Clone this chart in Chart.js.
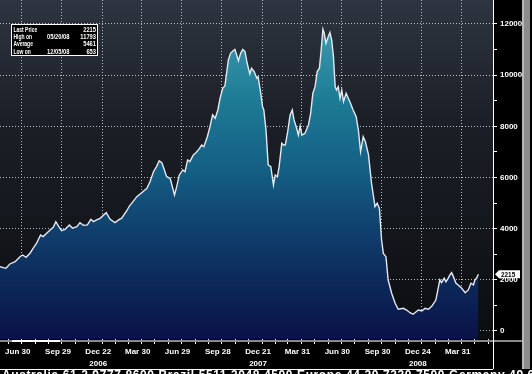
<!DOCTYPE html>
<html>
<head>
<meta charset="utf-8">
<script src="https://cdn.jsdelivr.net/npm/chart.js@4.4.1/dist/chart.umd.min.js"></script>
<style>
  html, body { margin: 0; padding: 0; background: #000; }
  #wrap { width: 532px; height: 374px; }
</style>
</head>
<body>
<div id="wrap"><canvas id="PriceChart" width="532" height="374"></canvas></div>
<script>
// days counted from 30 Jun 2005
var sessionDays = [-50,-36,-27,-15,-4,2,10,19,26,34,43,49,57,65,72,78,84,91,99,109,
    116,126,133,141,150,158,164,171,179,193,202,213,223,228,240,246,251,263,274,286,
    293,301,308,314,320,326,331,339,345,349,354,360,368,373,379,384,392,398,406,411,
    416,424,430,436,442,448,453,459,464,468,472,477,483,487,491,495,500,505,510,515,
    521,525,531,537,540,546,550,553,558,563,569,575,579,584,588,594,598,602,607,613,
    618,622,627,632,636,640,647,655,660,665,670,675,680,684,688,691,695,700,704,708,
    712,716,719,723,727,731,735,741,746,751,757,764,769,774,780,785,792,799,807,812,
    817,822,826,832,837,845,853,860,872,879,887,894,906,914,921,929,937,946,952,955,
    959,965,969,974,978,982,986,992,997,1005,1013,1020,1026,1032,1035,1039,1043];
var prices = [2510,2450,2620,2710,2905,2970,2880,3040,3230,3430,3750,3690,3820,3950,4050,4270,4100,3920,3975,4145,
    4015,4080,4235,4130,4145,4365,4275,4340,4405,4625,4365,4235,4365,4400,4700,4885,4990,5250,5405,5580,
    5835,6225,6425,6655,6580,6295,6030,5970,5580,5315,5640,6100,6295,6225,6685,6620,6880,6970,7140,7270,
    7205,7595,7985,8445,8315,8640,9095,9485,9575,10075,10595,10855,10955,11010,10790,10565,10855,11010,10920,10465,
    10050,10270,10140,9880,9940,9290,8770,8640,7855,6490,6425,5705,6100,6030,6425,7335,7270,7270,7730,8445,
    8640,8250,7985,7660,8015,7660,7730,8055,8510,9290,9550,10140,10270,10985,11793,11640,11245,11505,11670,11375,
    10725,9550,9420,9550,9095,9420,8965,9290,9095,8900,8640,8375,7855,7010,7595,7400,6900,5775,4860,4990,
    4795,3555,3035,2905,1995,1475,1085,850,885,820,715,653,820,780,885,850,975,1210,1730,1995,
    1890,2060,1925,2060,2190,2280,2125,1865,1800,1670,1495,1605,1865,1800,1995,2060,2215];

// x axis: quarter ends carry the labels
var quarterEnds = ["2005-06-30","2005-09-30","2005-12-31","2006-03-31","2006-06-30","2006-09-30",
    "2006-12-31","2007-03-31","2007-06-30","2007-09-30","2007-12-31","2008-03-31"];
var quarterLabels = ["Jun 30","Sep 29","Dec 22","Mar 30","Jun 29","Sep 28",
    "Dec 21","Mar 31","Jun 30","Sep 30","Dec 24","Mar 31"];
var yearLabels = ["","","2006","","","","2007","","","","2008",""];
var yValueTicks = [0,1000,2000,3000,4000,5000,6000,7000,8000,9000,10000,11000,12000];

// summary box
var summaryRows = [
    ["Last Price", "", "2215"],
    ["High on", "05/20/08", "11793"],
    ["Average", "", "5461"],
    ["Low on", "12/05/08", "653"]
];
var lastPrice = 2215;
var footerText = "Australia 61 2 9777 8600 Brazil 5511 3048 4500 Europe 44 20 7330 7500 Germany 49 69 9204 1210";

var FONT = "'Liberation Sans', Arial, sans-serif";
var GRID = 'rgba(200,205,214,0.9)';

function dayOf(s) {
    var base = Date.UTC(2005, 5, 30);
    return (Date.UTC(+s.slice(0, 4), +s.slice(5, 7) - 1, +s.slice(8, 10)) - base) / 864e5;
}

// month ends between the axis limits, quarter ends marked major
function buildMonthTicks() {
    var ticks = [];
    for (var y = 2005; y <= 2008; ++y) {
        for (var m = 0; m < 12; ++m) {
            var end = new Date(Date.UTC(y, m + 1, 0));
            var d = (end - Date.UTC(2005, 5, 30)) / 864e5;
            if (d < -50 || d > 1076) continue;
            var q = -1;
            for (var i = 0; i < quarterEnds.length; ++i) {
                if (dayOf(quarterEnds[i]) == d) q = i;
            }
            ticks.push({value: d, major: q >= 0, q: q});
        }
    }
    return ticks;
}

var points = [];
for (var i = 0; i < sessionDays.length; ++i) {
    points.push({x: sessionDays[i], y: prices[i]});
}

// condensed text, the terminal font is very narrow
function narrowText(ctx, text, x, y, sx) {
    ctx.save();
    ctx.translate(x, y);
    ctx.scale(sx, 1);
    ctx.fillText(text, 0, 0);
    ctx.restore();
}

var plotBackground = {
    id: 'plotBackground',
    beforeDraw: function (chart) {
        var ctx = chart.ctx, a = chart.chartArea;
        ctx.save();
        ctx.fillStyle = '#000';
        ctx.fillRect(0, 0, chart.width, chart.height);
        var g = ctx.createLinearGradient(0, a.top, 0, a.bottom);
        g.addColorStop(0, '#2e3540');
        g.addColorStop(0.35, '#1b1f27');
        g.addColorStop(1, '#0c0d10');
        ctx.fillStyle = g;
        ctx.fillRect(a.left, a.top, a.right - a.left, a.bottom - a.top);
        ctx.restore();
    },
    afterDatasetsDraw: function (chart) {
        // scales are drawn right after this (z: 1), squeeze their labels
        chart.ctx.letterSpacing = '-0.8px';
    }
};

var frameAndText = {
    id: 'frameAndText',
    afterDraw: function (chart) {
        var ctx = chart.ctx, a = chart.chartArea;
        var yScale = chart.scales.y;
        ctx.letterSpacing = '0px';
        ctx.save();

        // x axis band
        ctx.fillStyle = '#8a8a8a';
        ctx.fillRect(0, a.bottom + 1, 522, 2);
        ctx.fillStyle = '#ffffff';
        ctx.fillRect(12, a.bottom + 1, 48, 2);

        // frame lines
        ctx.strokeStyle = '#ffffff';
        ctx.lineWidth = 1;
        ctx.beginPath();
        ctx.moveTo(a.right + 0.5, 0);
        ctx.lineTo(a.right + 0.5, 369);
        ctx.moveTo(0, 369.5);
        ctx.lineTo(a.right, 369.5);
        ctx.stroke();

        // scroll bar on the right
        ctx.fillStyle = '#8c8c8c';
        ctx.fillRect(522, 0, 8, 369);
        ctx.fillStyle = '#b8b8b8';
        ctx.fillRect(522, 0, 2, 369);

        // last price tag
        var py = yScale.getPixelForValue(lastPrice);
        ctx.fillStyle = '#ffffff';
        ctx.beginPath();
        ctx.moveTo(a.right + 2, py);
        ctx.lineTo(a.right + 6, py - 4);
        ctx.lineTo(a.right + 27, py - 4);
        ctx.lineTo(a.right + 27, py + 4);
        ctx.lineTo(a.right + 6, py + 4);
        ctx.closePath();
        ctx.fill();
        ctx.fillStyle = '#000000';
        ctx.font = 'bold 8px ' + FONT;
        ctx.textBaseline = 'middle';
        ctx.textAlign = 'left';
        narrowText(ctx, String(lastPrice), a.right + 8, py + 0.5, 0.8);

        // summary box
        ctx.fillStyle = '#000000';
        ctx.fillRect(11, 24, 87, 32);
        ctx.strokeStyle = '#ffffff';
        ctx.strokeRect(11.5, 24.5, 86, 31);
        ctx.fillStyle = '#ffffff';
        ctx.font = 'bold 8px ' + FONT;
        for (var i = 0; i < summaryRows.length; ++i) {
            var ry = 29.5 + i * 7.3;
            ctx.textAlign = 'left';
            narrowText(ctx, summaryRows[i][0], 13.5, ry, 0.62);
            narrowText(ctx, summaryRows[i][1], 47, ry, 0.72);
            ctx.textAlign = 'right';
            narrowText(ctx, summaryRows[i][2], 96, ry, 0.72);
        }

        // footer, mostly cut off by the window
        ctx.textAlign = 'left';
        ctx.textBaseline = 'top';
        ctx.font = 'bold 12px ' + FONT;
        ctx.letterSpacing = '0.6px';
        ctx.fillText(footerText, 2, 370);
        ctx.letterSpacing = '0px';
        ctx.restore();
    }
};

document.addEventListener('DOMContentLoaded', function () {
    var canvas = document.getElementById('PriceChart');

    new Chart(canvas, {
        type: 'line',
        data: {
            datasets: [{
                data: points,
                borderColor: '#e4e9f0',
                borderWidth: 1.4,
                pointRadius: 0,
                tension: 0,
                fill: 'start',
                backgroundColor: function (context) {
                    var chart = context.chart;
                    var a = chart.chartArea;
                    if (!a) return null;
                    var g = chart.ctx.createLinearGradient(0, a.top, 0, a.bottom);
                    g.addColorStop(0.08, '#3a9aae');
                    g.addColorStop(0.3, '#1d7a94');
                    g.addColorStop(0.5, '#145f85');
                    g.addColorStop(0.68, '#103f6d');
                    g.addColorStop(0.85, '#0c2658');
                    g.addColorStop(1, '#0b1247');
                    return g;
                }
            }]
        },
        options: {
            responsive: false,
            animation: false,
            maintainAspectRatio: false,
            layout: {padding: {left: 0, top: 0, right: 10, bottom: 0}},
            plugins: {
                legend: {display: false},
                tooltip: {enabled: false}
            },
            scales: {
                x: {
                    type: 'linear',
                    min: -49.6,
                    max: 1076.5,
                    z: 1,
                    afterBuildTicks: function (scale) {
                        scale.ticks = buildMonthTicks();
                    },
                    afterFit: function (scale) {
                        scale.height = 35;
                        scale.paddingLeft = 0;
                        scale.paddingRight = 0;
                    },
                    grid: {
                        color: function (c) {
                            return (c.tick && c.tick.major) ? GRID : 'rgba(0,0,0,0)';
                        },
                        lineWidth: 1,
                        drawTicks: true,
                        tickLength: 5,
                        tickColor: '#ffffff',
                        tickWidth: 1
                    },
                    border: {display: false, dash: [1, 2]},
                    ticks: {
                        autoSkip: false,
                        maxRotation: 0,
                        padding: 1,
                        color: '#ffffff',
                        labelOffset: -4,
                        font: {family: FONT, size: 8, weight: 'bold', lineHeight: 1.6},
                        callback: function (value, index, ticks) {
                            var t = ticks[index];
                            if (!t || t.q < 0) return '';
                            return [quarterLabels[t.q], yearLabels[t.q]];
                        }
                    }
                },
                y: {
                    position: 'right',
                    min: -313,
                    max: 12938,
                    z: 1,
                    afterBuildTicks: function (scale) {
                        scale.ticks = yValueTicks.map(function (v) {
                            return {value: v, major: v % 2000 == 0};
                        });
                    },
                    afterFit: function (scale) {
                        scale.width = 29;
                        scale.paddingTop = 0;
                        scale.paddingBottom = 0;
                    },
                    grid: {
                        color: function (c) {
                            return (c.tick && c.tick.major) ? GRID : 'rgba(0,0,0,0)';
                        },
                        lineWidth: 1,
                        tickLength: 4,
                        tickColor: '#ffffff',
                        tickWidth: 1
                    },
                    border: {display: false, dash: [1, 2]},
                    ticks: {
                        padding: 3,
                        color: '#ffffff',
                        font: {family: FONT, size: 8, weight: 'bold'},
                        callback: function (value) {
                            return value % 2000 == 0 ? String(value) : '';
                        }
                    }
                }
            }
        },
        plugins: [plotBackground, frameAndText]
    });
});
</script>
</body>
</html>
